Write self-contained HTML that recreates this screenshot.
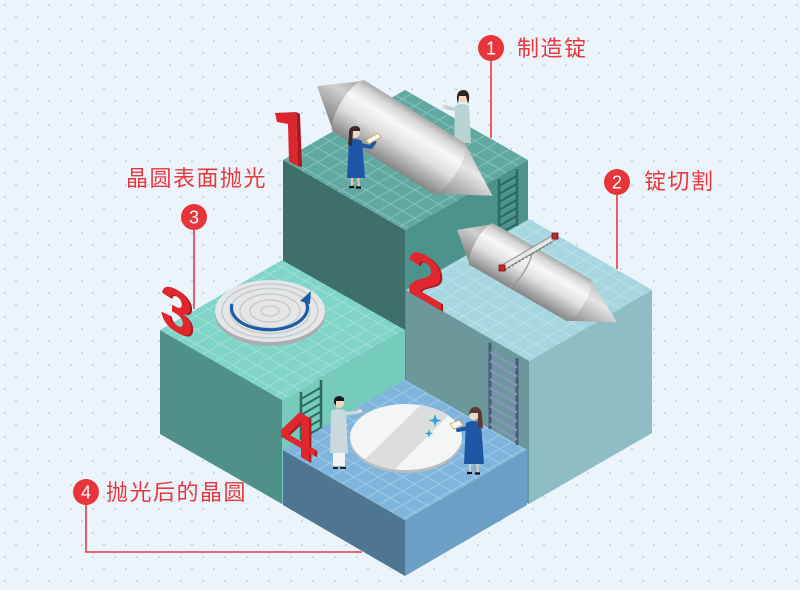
<!DOCTYPE html>
<html><head><meta charset="utf-8">
<style>html,body{margin:0;padding:0;background:#eaf4fa;}svg{display:block}</style>
</head><body>
<svg width="800" height="590" viewBox="0 0 800 590" xmlns="http://www.w3.org/2000/svg">
<defs>
 <pattern id="dots" patternUnits="userSpaceOnUse" width="22" height="24">
  <circle cx="5" cy="5" r="1.1" fill="#c7d6e1"/>
  <circle cx="16" cy="17" r="1.1" fill="#c7d6e1"/>
 </pattern>
 <pattern id="grid" patternUnits="userSpaceOnUse" width="14" height="14" patternTransform="matrix(0.866 0.5 0.866 -0.5 160 330)">
  <path d="M0 7H14M7 0V14" stroke="#ffffff" stroke-opacity="0.26" stroke-width="1.2" fill="none"/>
 </pattern>
 <linearGradient id="bd" x1="0" y1="0" x2="0" y2="1">
  <stop offset="0" stop-color="#a9a9a9"/>
  <stop offset="0.12" stop-color="#d6d6d6"/>
  <stop offset="0.32" stop-color="#f8f8f8"/>
  <stop offset="0.58" stop-color="#e0e0e0"/>
  <stop offset="1" stop-color="#858585"/>
 </linearGradient>
 <linearGradient id="cn" x1="0" y1="0" x2="0" y2="1">
  <stop offset="0" stop-color="#a4a4a4"/>
  <stop offset="0.35" stop-color="#d0d0d0"/>
  <stop offset="1" stop-color="#747474"/>
 </linearGradient>
 <linearGradient id="cn2" x1="0" y1="0" x2="0" y2="1">
  <stop offset="0" stop-color="#bcbcbc"/>
  <stop offset="0.35" stop-color="#e6e6e6"/>
  <stop offset="1" stop-color="#858585"/>
 </linearGradient>
 <clipPath id="wclip"><ellipse cx="406" cy="437" rx="56" ry="33"/></clipPath>
</defs>

<!-- background -->
<rect width="800" height="590" fill="#eaf4fa"/>
<rect width="800" height="590" fill="url(#dots)"/>

<!-- Block 1 -->
<polygon points="283,160 405,230 405,431 283,361" fill="#3e6f6a"/>
<polygon points="405,230 528,160 528,361 405,431" fill="#4c938b"/>
<polygon points="283,160 405,90 528,160 405,230" fill="#5fa9a0"/>
<polygon points="283,160 405,90 528,160 405,230" fill="url(#grid)"/>

<!-- Block 2 -->
<polygon points="406,290 529,361 529,504 406,433" fill="#6c989c"/>
<polygon points="529,361 652,290 652,433 529,504" fill="#8ebdc4"/>
<polygon points="406,290 529,219 652,290 529,361" fill="#a6d6df"/>
<polygon points="406,290 529,219 652,290 529,361" fill="url(#grid)"/>

<!-- Block 3 -->
<polygon points="160,330 282,400 282,504 160,434" fill="#4f9189"/>
<polygon points="282,400 405,330 405,433 282,504" fill="#76cbbb"/>
<polygon points="160,330 282,260 405,330 282,400" fill="#7fd5c7"/>
<polygon points="160,330 282,260 405,330 282,400" fill="url(#grid)"/>

<!-- Block 4 -->
<polygon points="283,450 405,520 405,576 283,505" fill="#4e7592"/>
<polygon points="405,520 527,450 527,505 405,576" fill="#6c9fc5"/>
<polygon points="283,450 405,380 527,450 405,520" fill="#7fb5dd"/>
<polygon points="283,450 405,380 527,450 405,520" fill="url(#grid)"/>

<!-- Ladder 1 (block1 right face) -->
<g stroke="#2c6a63" fill="none">
 <path d="M499,179 V236 M517,169 V226" stroke-width="2.5"/>
 <path d="M499,186 l18,-10.4 M499,194 l18,-10.4 M499,202 l18,-10.4 M499,210 l18,-10.4 M499,218 l18,-10.4 M499,226 l18,-10.4 M499,234 l18,-10.4" stroke-width="2"/>
</g>
<!-- Ladder 2 (block2 left face) -->
<g fill="none">
 <path d="M490,343 V429 M517,358 V445" stroke="#4a587c" stroke-width="3"/>
 <path d="M490,352 l27,15.6 M490,361 l27,15.6 M490,370 l27,15.6 M490,379 l27,15.6 M490,388 l27,15.6 M490,397 l27,15.6 M490,406 l27,15.6 M490,415 l27,15.6 M490,424 l27,15.6" stroke="#8596b6" stroke-width="2.4"/>
</g>
<!-- Ladder 3 (block3 right face) -->
<g stroke="#2c6a63" fill="none">
 <path d="M301,392 V440 M321,380 V428" stroke-width="2.5"/>
 <path d="M301,399 l20,-11.5 M301,407 l20,-11.5 M301,415 l20,-11.5 M301,423 l20,-11.5 M301,431 l20,-11.5 M301,439 l20,-11.5" stroke-width="2"/>
</g>

<!-- Person B (behind ingot) -->
<g>
 <path d="M455,106 Q462,102 469,106 L471,143 L454,143 Z" fill="#b7d3d2"/>
 <path d="M457,110 L445,107" stroke="#b7d3d2" stroke-width="3.5" stroke-linecap="round"/>
 <circle cx="444" cy="107" r="2" fill="#f3d6c4"/>
 <circle cx="463" cy="98" r="5" fill="#f3d6c4"/>
 <path d="M457,100 Q456,90 464,90 Q470,91 469,100 L468,104 L466,96 L459,96 L458,104 Z" fill="#2a2222"/>
</g>

<!-- Ingot 1 -->
<g transform="translate(317,86) rotate(32)">
 <polygon points="0,0 38,-30 38,30" fill="url(#cn)"/>
 <polygon points="155,-30 207,0 155,30" fill="url(#cn2)"/>
 <path d="M38,-30 H155 A9 30 0 0 1 155 30 H38 A9 30 0 0 1 38 -30 Z" fill="url(#bd)"/>
</g>

<!-- Person A -->
<g>
 <path d="M352,176 v10 M358,176 l1,10" stroke="#e9c9b5" stroke-width="2"/>
 <path d="M349,187 h5 M356,187.5 h5" stroke="#111" stroke-width="2.2"/>
 <path d="M349,141 Q355,137 362,141 L365,178 L347,178 Z" fill="#1f56a6"/>
 <path d="M360,145 L371,147 L375,141" stroke="#1f56a6" stroke-width="4" fill="none" stroke-linejoin="round"/>
 <polygon points="366,140 378,133 381,137 369,144" fill="#f7f7f7" stroke="#c9a54a" stroke-width="0.8"/>
 <circle cx="355" cy="133" r="5" fill="#f3d6c4"/>
 <path d="M349,135 Q348,126 356,126 Q361,127 360,131 L353,131 L352,146 L348,145 Z" fill="#3b2b28"/>
</g>

<!-- Ingot 2 -->
<g transform="translate(457,230) rotate(30)">
 <polygon points="0,0 29,-24 29,24" fill="url(#cn)"/>
 <polygon points="140,-24 185,0 140,24" fill="url(#cn2)"/>
 <path d="M29,-24 H140 A7 24 0 0 1 140 24 H29 A7 24 0 0 1 29 -24 Z" fill="url(#bd)"/>
 <path d="M72,-24 A7 24 0 0 1 72 24" stroke="#9c9c9c" fill="none" stroke-width="1.3"/>
</g>
<!-- Saw -->
<g>
 <line x1="502" y1="268" x2="555" y2="237" stroke="#8a8a8a" stroke-width="6"/>
 <line x1="502" y1="268" x2="555" y2="237" stroke="#e6e6e6" stroke-width="4"/>
 <line x1="505" y1="270" x2="552" y2="242" stroke="#7e7e7e" stroke-width="1.6" stroke-dasharray="2 2"/>
 <rect x="499" y="265" width="6" height="6" fill="#c3262d" stroke="#6b1418" stroke-width="0.8"/>
 <rect x="552" y="233" width="6" height="6" fill="#c3262d" stroke="#6b1418" stroke-width="0.8"/>
</g>

<!-- Polisher on block 3 -->
<g>
 <ellipse cx="270" cy="315" rx="55" ry="31" fill="#a9adb0"/>
 <ellipse cx="270" cy="311" rx="55" ry="31" fill="#e4e6e7"/>
 <g fill="none" stroke="#c8cbcd" stroke-width="1.5">
  <ellipse cx="270" cy="311" rx="48" ry="27"/>
  <ellipse cx="270" cy="311" rx="40" ry="22.5"/>
  <ellipse cx="270" cy="311" rx="30" ry="17"/>
  <ellipse cx="270" cy="311" rx="20" ry="11"/>
  <ellipse cx="270" cy="311" rx="9" ry="5"/>
 </g>
 <path d="M232,304 A38 22 0 1 0 305,300" fill="none" stroke="#1d5aa8" stroke-width="3.2"/>
 <polygon points="300,301 311,291 310,304" fill="#1d5aa8"/>
</g>

<!-- Wafer on block 4 -->
<g>
 <ellipse cx="406" cy="440" rx="56" ry="33" fill="#b9bdc0"/>
 <ellipse cx="406" cy="437" rx="56" ry="33" fill="#f4f5f5"/>
 <g clip-path="url(#wclip)">
  <polygon points="428,398 458,406 388,476 356,468" fill="#dcdddd"/>
 </g>
 <path d="M435,414 l1.5,5 5,1.5 -5,1.5 -1.5,5 -1.5,-5 -5,-1.5 5,-1.5 Z" fill="#2aa3df"/>
 <path d="M429,429 l1,3.5 3.5,1 -3.5,1 -1,3.5 -1,-3.5 -3.5,-1 3.5,-1 Z" fill="#2aa3df"/>
</g>

<!-- Person C -->
<g>
 <rect x="333" y="451" width="12" height="15" fill="#f3f3f3"/>
 <path d="M333,468 h5 M340,468 h6" stroke="#222" stroke-width="2"/>
 <path d="M331,411 Q338,407 346,411 L348,453 L330,453 Z" fill="#c9d9dd"/>
 <path d="M344,414 L358,412" stroke="#c9d9dd" stroke-width="3.5" stroke-linecap="round"/>
 <circle cx="360" cy="411" r="2" fill="#f3d6c4"/>
 <circle cx="339" cy="403" r="5" fill="#f3d6c4"/>
 <path d="M334,403 Q333,396 340,396 Q345,397 344,401 L336,401 L336,406 Z" fill="#1a1a1a"/>
</g>

<!-- Person D -->
<g>
 <path d="M470,462 v10 M477,462 l1,10" stroke="#e9c9b5" stroke-width="2"/>
 <path d="M467,473 h5 M475,473.5 h5" stroke="#111" stroke-width="2.2"/>
 <path d="M466,423 Q473,419 481,423 L484,464 L464,464 Z" fill="#1f56a6"/>
 <path d="M468,428 L458,430" stroke="#1f56a6" stroke-width="4" stroke-linecap="round"/>
 <polygon points="450,424 459,420 463,425 454,429" fill="#f7f7f7" stroke="#c9a54a" stroke-width="0.8"/>
 <circle cx="474" cy="415" r="5" fill="#f3d6c4"/>
 <path d="M469,415 Q469,407 476,407 Q482,408 482,416 L483,428 L478,427 L478,413 L471,413 Z" fill="#5a3a2c"/>
</g>

<!-- Big numerals -->
<g>
 <polygon points="296,112 300,114 302,167 298,166" fill="#a81a20"/>
 <polygon points="275,113 296,112 298,166 289,162 288,124 277,122" fill="#dc262d"/>
 <text transform="translate(409,292) skewY(30)" font-family="Liberation Sans, sans-serif" font-weight="bold" font-size="66" fill="#a81a20">2</text>
 <text transform="translate(407,291) skewY(30)" font-family="Liberation Sans, sans-serif" font-weight="bold" font-size="66" fill="#e0272e">2</text>
 <text transform="translate(162,323) skewY(30)" font-family="Liberation Sans, sans-serif" font-weight="bold" font-size="60" fill="#a81a20">3</text>
 <text transform="translate(160,322) skewY(30)" font-family="Liberation Sans, sans-serif" font-weight="bold" font-size="60" fill="#e0272e">3</text>
 <text transform="translate(282,446) skewY(30)" font-family="Liberation Sans, sans-serif" font-weight="bold" font-size="64" fill="#a81a20">4</text>
 <text transform="translate(280,445) skewY(30)" font-family="Liberation Sans, sans-serif" font-weight="bold" font-size="64" fill="#e0272e">4</text>
</g>

<!-- Labels -->
<g stroke="#e8383d" stroke-width="1.6" fill="none">
 <line x1="491" y1="60" x2="491" y2="138"/>
 <line x1="617" y1="194" x2="617" y2="269"/>
 <line x1="194" y1="229" x2="194" y2="309"/>
 <polyline points="86,504 86,552 362,552"/>
</g>
<g fill="#e8343b">
 <circle cx="491" cy="48" r="13"/>
 <circle cx="617" cy="182" r="13"/>
 <circle cx="194" cy="217" r="13"/>
 <circle cx="86" cy="492" r="13"/>
</g>
<g fill="#ffffff" font-family="Liberation Sans, sans-serif" font-size="18" text-anchor="middle">
 <text x="491" y="54.5">1</text>
 <text x="617" y="188.5">2</text>
 <text x="194" y="223.5">3</text>
 <text x="86" y="498.5">4</text>
</g>
<g fill="#e8383d" font-family="Liberation Sans, 'Noto Sans CJK SC', sans-serif" font-size="22" letter-spacing="1.5">
 <text x="517" y="56">制造锭</text>
 <text x="644" y="189">锭切割</text>
 <text x="126" y="186">晶圆表面抛光</text>
 <text x="106" y="500">抛光后的晶圆</text>
</g>
</svg>
</body></html>
